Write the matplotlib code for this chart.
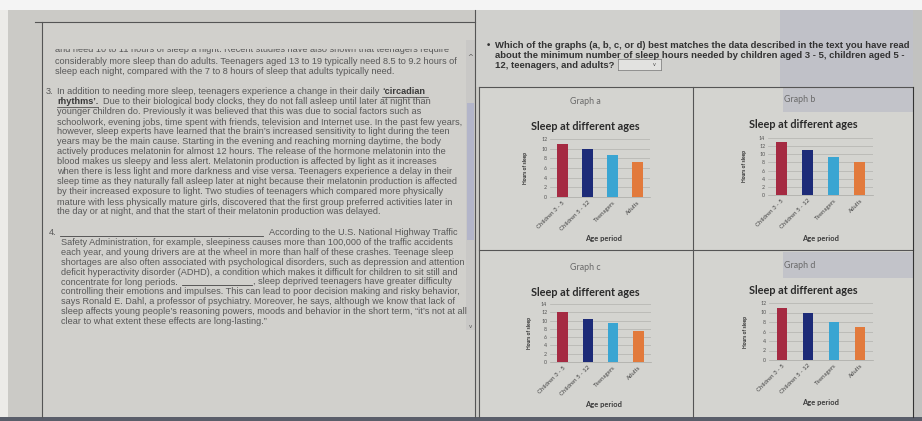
import matplotlib.pyplot as plt
from matplotlib.patches import Rectangle
from matplotlib.lines import Line2D

# chart data
age_groups = ["Children 3 - 5", "Children 5 - 12", "Teenagers", "Adults"]
graph_names = ["Graph a", "Graph b", "Graph c", "Graph d"]
sleep_a = [10.9, 10.0, 8.6, 7.2]
sleep_b = [13.0, 11.0, 9.3, 8.2]
sleep_c = [12.0, 10.5, 9.5, 7.6]
sleep_d = [11.0, 10.0, 8.1, 7.0]
y_max = [12, 14, 14, 12]
bar_colors = ["#a52a42", "#1d2b78", "#3aa5d2", "#e27a3c"]

# reading text (left panel)
top_lines = [
    "and need 10 to 11 hours of sleep a night. Recent studies have also shown that teenagers require",
    "considerably more sleep than do adults. Teenagers aged 13 to 19 typically need 8.5 to 9.2 hours of",
    "sleep each night, compared with the 7 to 8 hours of sleep that adults typically need.",
]
para3 = [
    "In addition to needing more sleep, teenagers experience a change in their daily",
    "Due to their biological body clocks, they do not fall asleep until later at night than",
    "younger children do. Previously it was believed that this was due to social factors such as",
    "schoolwork, evening jobs, time spent with friends, television and Internet use. In the past few years,",
    "however, sleep experts have learned that the brain\u2019s increased sensitivity to light during the teen",
    "years may be the main cause. Starting in the evening and reaching morning daytime, the body",
    "actively produces melatonin for almost 12 hours. The release of the hormone melatonin into the",
    "blood makes us sleepy and less alert. Melatonin production is affected by light as it increases",
    "when there is less light and more darkness and vise versa. Teenagers experience a delay in their",
    "sleep time as they naturally fall asleep later at night because their melatonin production is affected",
    "by their increased exposure to light. Two studies of teenagers which compared more physically",
    "mature with less physically mature girls, discovered that the first group preferred activities later in",
    "the day or at night, and that the start of their melatonin production was delayed.",
]
para4 = [
    "According to the U.S. National Highway Traffic",
    "Safety Administration, for example, sleepiness causes more than 100,000 of the traffic accidents",
    "each year, and young drivers are at the wheel in more than half of these crashes. Teenage sleep",
    "shortages are also often associated with psychological disorders, such as depression and attention",
    "deficit hyperactivity disorder (ADHD), a condition which makes it difficult for children to sit still and",
    "concentrate for long periods.",
    "controlling their emotions and impulses. This can lead to poor decision making and risky behavior,",
    "says Ronald E. Dahl, a professor of psychiatry. Moreover, he says, although we know that lack of",
    "sleep affects young people\u2019s reasoning powers, moods and behavior in the short term, \u201cit\u2019s not at all",
    "clear to what extent these effects are long-lasting.\u201d",
]
question = [
    "Which of the graphs (a, b, c, or d) best matches the data described in the text you have read",
    "about the minimum number of sleep hours needed by children aged 3 - 5, children aged 5 -",
    "12, teenagers, and adults?",
]

W, H = 922, 421
fig = plt.figure(figsize=(9.22, 4.21), dpi=100)
fig.patch.set_facecolor("#cbcac6")


def fx(x):
    return x / W


def fy(y):
    return 1 - y / H


def box(x0, y0, x1, y1, color, z=-3):
    fig.patches.append(Rectangle((fx(x0), fy(y1)), (x1 - x0) / W, (y1 - y0) / H,
                                 transform=fig.transFigure, facecolor=color,
                                 edgecolor="none", zorder=z))


def line(x0, y0, x1, y1, color="#555555", lw=0.8):
    fig.lines.append(Line2D([fx(x0), fx(x1)], [fy(y0), fy(y1)],
                            transform=fig.transFigure, color=color, lw=lw))


# background pieces
box(0, 0, W, 10, "#f4f4f4")
box(0, 10, 8, 417, "#ecebe8")
box(43, 23, 475, 417, "#d1d0cc")
box(476, 10, 913, 87, "#d0d0cd")
box(780, 10, 913, 87, "#c0c1c8")
box(479, 87, 913, 417, "#d4d4d0")
box(783, 87, 913, 112, "#c2c3c9")
box(783, 252, 913, 278, "#c2c3c9")
box(0, 417, W, H, "#5a5e6a")
box(913, 10, W, 417, "#c2c2c0")

# frame lines
line(35, 22, 475, 22)
line(42, 22, 42, 417)
line(475, 10, 475, 417)
line(479, 87, 913, 87)
line(479, 87, 479, 417)
line(693, 87, 693, 417)
line(479, 250, 913, 250)
line(913, 87, 913, 417, color="#333333")

# scrollbar
box(466, 40, 475, 330, "#c9c8c6", z=-2)
box(467, 103, 474, 240, "#b3b5c9", z=-1)
fig.text(fx(470), fy(57), "^", fontsize=5, color="#555555", ha="center", va="center")
fig.text(fx(470), fy(326), "v", fontsize=4, color="#555555", ha="center", va="center")

txt = dict(fontsize=6.6, color="#585858", family="Liberation Sans", va="center")

# top lines, first one half hidden by the scrolled panel edge
fig.text(fx(55), fy(49), top_lines[0], **txt)
box(44, 38, 465, 48.5, "#d1d0cc", z=5)
fig.text(fx(55), fy(61), top_lines[1], **txt)
fig.text(fx(55), fy(72), top_lines[2], **txt)

# paragraph 3
fig.text(fx(46), fy(92), "3.", **txt)
y = 92
for i, s in enumerate(para3):
    if i == 1:
        fig.text(fx(103), fy(y), s, **txt)
    else:
        fig.text(fx(57), fy(y), s, **txt)
    y += 10
bold_txt = dict(txt, color="#3a3a3a", fontweight="bold")
fig.text(fx(382), fy(92), "\u2018circadian", **bold_txt)
fig.text(fx(57), fy(102), "rhythms\u2019.", **bold_txt)
line(382, 96.5, 428, 96.5, color="#3a3a3a", lw=0.5)
line(57, 106.5, 98, 106.5, color="#3a3a3a", lw=0.5)

# paragraph 4
fig.text(fx(49), fy(233), "4.", **txt)
line(60, 236, 263, 236, color="#444444", lw=0.6)
y = 233
for i, s in enumerate(para4):
    xs = 269 if i == 0 else 61
    fig.text(fx(xs), fy(y), s, **txt)
    y += 9.8
line(182, 285, 252, 285, color="#444444", lw=0.6)
fig.text(fx(253), fy(282), ", sleep deprived teenagers have greater difficulty", **txt)

# question
q = dict(fontsize=6.8, color="#333333", family="Liberation Sans", fontweight="bold", va="center")
fig.text(fx(487), fy(45), "\u2022", **q)
for i, s in enumerate(question):
    fig.text(fx(495), fy(45 + 10 * i), s, **q)
box(618, 59, 661, 70, "#e2e2e0", z=-1)
line(618, 59, 661, 59, color="#777777", lw=0.5)
line(618, 70, 661, 70, color="#777777", lw=0.5)
line(618, 59, 618, 70, color="#777777", lw=0.5)
line(661, 59, 661, 70, color="#777777", lw=0.5)
fig.text(fx(654), fy(65), "v", fontsize=3.5, color="#444444", ha="center", va="center")

# the four graphs
all_values = [sleep_a, sleep_b, sleep_c, sleep_d]
# plot area (left, top, right, bottom) in pixels, and text spots
plot_px = [(550, 139, 650, 197), (768, 138, 873, 195), (550, 304, 651, 362), (769, 303, 873, 360)]
name_px = [(585, 102), (800, 100), (585, 267), (800, 265)]
title_px = [(585, 127), (803, 124), (585, 292), (803, 290)]
xlab_px = [(603, 239), (820, 238), (603, 404), (820, 403)]
ylab_x = [525, 744, 529, 746]

chart_font = "Lato"
for k in range(4):
    l, t, r, b = plot_px[k]
    ax = fig.add_axes([fx(l), fy(b), (r - l) / W, (b - t) / H])
    ax.set_facecolor("none")
    ax.bar(range(4), all_values[k], width=0.42, color=bar_colors, zorder=3)
    ax.set_xlim(-0.5, 3.5)
    ax.set_ylim(0, y_max[k])
    ax.set_yticks(range(0, y_max[k] + 1, 2))
    ax.set_xticks(range(4))
    ax.set_xticklabels(age_groups, rotation=45, ha="right", rotation_mode="anchor",
                       fontsize=4.4, family=chart_font, color="#454545")
    for lab in ax.get_yticklabels():
        lab.set_fontsize(3.8)
        lab.set_family(chart_font)
        lab.set_color("#555555")
    ax.tick_params(length=0, pad=2)
    ax.grid(axis="y", color="#b2b2ae", lw=0.5, zorder=0)
    for side in ["top", "right", "left"]:
        ax.spines[side].set_visible(False)
    ax.spines["bottom"].set_color("#a8a8a4")
    ax.spines["bottom"].set_linewidth(0.5)

    fig.text(fx(name_px[k][0]), fy(name_px[k][1]), graph_names[k], fontsize=6.4,
             family=chart_font, color="#6a6a6a", ha="center", va="center")
    fig.text(fx(title_px[k][0]), fy(title_px[k][1]), "Sleep at different ages", fontsize=7.8,
             family=chart_font, fontweight="bold", color="#2a2a2a", ha="center", va="center")
    fig.text(fx(xlab_px[k][0]), fy(xlab_px[k][1]), "Age period", fontsize=5.4,
             family=chart_font, fontweight="bold", color="#3a3a3a", ha="center", va="center")
    fig.text(fx(ylab_x[k]), fy((t + b) / 2), "Hours of sleep", fontsize=3.6, rotation=90,
             family=chart_font, fontweight="bold", color="#2a2a2a", ha="center", va="center")

fig.savefig("out.png", dpi=100, facecolor=fig.get_facecolor())
